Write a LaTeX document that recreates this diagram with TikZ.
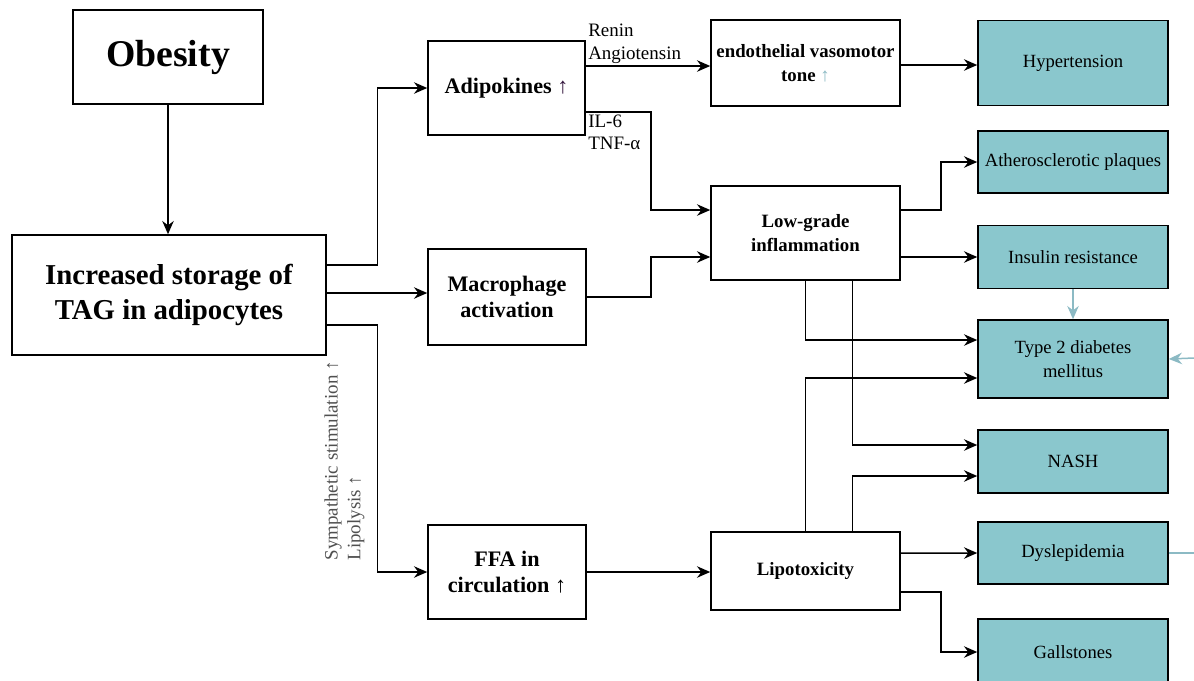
\documentclass[tikz,border=0pt]{standalone}
\usepackage{fontspec}
\setmainfont{Liberation Serif}
\usepackage{tikz}
\usetikzlibrary{positioning, arrows.meta}

\definecolor{tealfill}{RGB}{138,199,205}
\definecolor{paleline}{RGB}{140,186,196}
\definecolor{labelgray}{RGB}{80,80,80}
\definecolor{darkarrow}{RGB}{50,20,60}

\tikzset{
	box/.style={draw, line width=0.9pt, align=center, inner sep=2pt},
	leftbox/.style={box, font=\bfseries\fontsize{16.4}{19.5}\selectfont},
	midbox/.style={box, font=\bfseries\fontsize{12.6}{14.5}\selectfont},
	smallbox/.style={box, font=\bfseries\fontsize{10.7}{13.5}\selectfont},
	endbox/.style={box, fill=tealfill, font=\fontsize{10.6}{13.5}\selectfont, minimum width=3.8cm},
	lbl/.style={font=\fontsize{10.8}{13}\selectfont, align=left, inner sep=1pt},
}

\begin{document}
\begin{tikzpicture}[x=0.02cm, y=-0.02cm, >={Stealth[length=7.5pt, width=6.5pt]}, line width=0.85pt]
		\useasboundingbox (0, 0) rectangle (1194, 680);
		
		\node[leftbox, font=\bfseries\fontsize{21.5}{24}\selectfont, minimum width=3.8cm, minimum height=1.88cm] (obesity) at (168, 57) {Obesity};
		\node[leftbox, minimum width=6.28cm, minimum height=2.4cm] (store) at (169, 295) {Increased storage of\\TAG in adipocytes};
		
		\node[midbox, minimum width=3.14cm, minimum height=1.88cm] (adip) at (506.5, 88) {Adipokines \textcolor{darkarrow}{↑}};
		\node[midbox, minimum width=3.16cm, minimum height=1.92cm] (macro) at (507, 297) {Macrophage\\activation};
		\node[midbox, minimum width=3.16cm, minimum height=1.88cm] (ffa) at (507, 572) {FFA in\\circulation ↑};
		
		\node[smallbox, minimum width=3.78cm, minimum height=1.72cm] (endo) at (805.5, 63) {endothelial vasomotor\\tone \textcolor{paleline}{↑}};
		\node[smallbox, minimum width=3.78cm, minimum height=1.88cm] (infl) at (805.5, 233) {Low-grade\\inflammation};
		\node[smallbox, minimum width=3.78cm, minimum height=1.56cm] (lipo) at (805.5, 571) {Lipotoxicity};
		
		\node[endbox, minimum height=1.7cm] (hyper) at (1073, 63) {Hypertension};
		\node[endbox, minimum height=1.24cm] (ather) at (1073, 162) {Atherosclerotic plaques};
		\node[endbox, minimum height=1.26cm] (insul) at (1073, 257) {Insulin resistance};
		\node[endbox, minimum height=1.56cm] (t2d) at (1073, 359) {Type 2 diabetes\\mellitus};
		\node[endbox, minimum height=1.26cm] (nash) at (1073, 461.5) {NASH};
		\node[endbox, minimum height=1.24cm] (dysl) at (1073, 553) {Dyslepidemia};
		\node[endbox, minimum height=1.32cm] (gall) at (1073, 652) {Gallstones};
		
		\coordinate (edgeT) at (1194, 358);
		\coordinate (edgeD) at (1194, 553);
		
		% left part
		\draw [->] (obesity.south) -- (obesity.south |- store.north);
		\draw [->] ([yshift=0.6cm]store.east) -- ++(1.02cm, 0) |- (adip.west);
		\draw [->] ([yshift=0.04cm]store.east) -- ([yshift=0.04cm]store.east -| macro.west);
		\draw [->] ([yshift=-0.6cm]store.east) -- ++(1.02cm, 0) |- (ffa.west);
		
		\node[lbl, rotate=90, anchor=south west, text=labelgray] (symp) at (367, 563) {Sympathetic stimulation ↑\\Lipolysis ↑};
		
		% middle part
		\draw [->] ([yshift=0.44cm]adip.east) -- ([yshift=0.44cm]adip.east -| endo.west);
		\node[lbl, anchor=south west] (renin) at ([yshift=0.44cm]adip.east) {Renin\\Angiotensin};
		\draw [->] ([yshift=-0.48cm]adip.east) -- ++(1.3cm, 0) |- ([yshift=0.46cm]infl.west);
		\node[lbl, anchor=north west] (ilsix) at ([yshift=-0.48cm]adip.east) {IL-6\\TNF-α};
		\draw [->] (macro.east) -- ++(1.28cm, 0) |- ([yshift=-0.48cm]infl.west);
		\draw [->] (ffa.east) -- (ffa.east -| lipo.west);
		
		% right part
		\draw [->] ([yshift=-0.04cm]endo.east) -- ([yshift=-0.04cm]endo.east -| hyper.west);
		\draw [->] ([yshift=0.46cm]infl.east) -- ++(0.8cm, 0) |- (ather.west);
		\draw [->] ([yshift=-0.48cm]infl.east) -- ([yshift=-0.48cm]infl.east -| insul.west);
		\draw [->] (infl.south) |- ([yshift=0.38cm]t2d.west);
		\draw [->] ([xshift=0.94cm]infl.south) |- ([yshift=0.33cm]nash.west);
		\draw [->] (lipo.north) |- ([yshift=-0.38cm]t2d.west);
		\draw [->] ([xshift=0.94cm]lipo.north) |- ([yshift=-0.29cm]nash.west);
		\draw [->] ([yshift=0.36cm]lipo.east) -- (dysl.west);
		\draw [->] ([yshift=-0.42cm]lipo.east) -- ++(0.8cm, 0) |- (gall.west);
		
		\draw [->, paleline] (insul.south) -- (t2d.north);
		\draw [->, paleline] (edgeT) -- (t2d.east);
		\draw [paleline] (dysl.east) -- (edgeD);
		
	\end{tikzpicture}
\end{document}
